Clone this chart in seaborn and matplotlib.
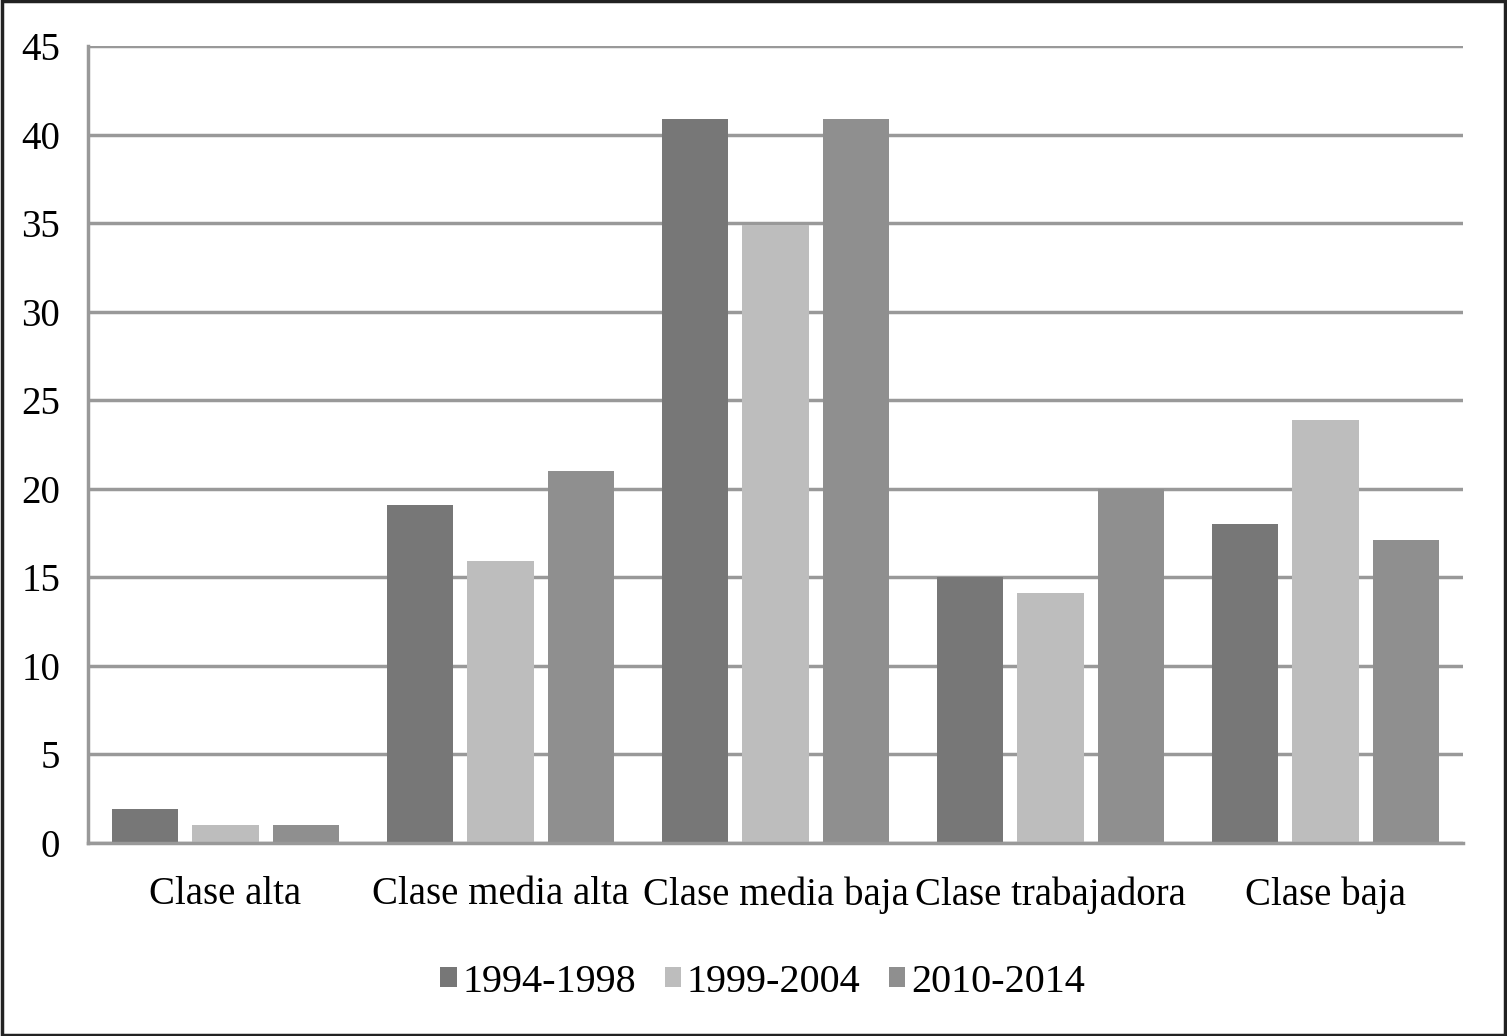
import pandas as pd
import seaborn as sns
import matplotlib.pyplot as plt
from matplotlib.patches import Rectangle

categories = ["Clase alta", "Clase media alta", "Clase media baja", "Clase trabajadora", "Clase baja"]
periods = ["1994-1998", "1999-2004", "2010-2014"]
v_1994_1998 = [1.9, 19.1, 40.9, 15.0, 18.0]
v_1999_2004 = [1.0, 15.9, 34.9, 14.1, 23.9]
v_2010_2014 = [1.0, 21.0, 40.9, 20.0, 17.1]
colors = ["#777777", "#bdbdbd", "#8f8f8f"]

rows = []
for period, vals in zip(periods, [v_1994_1998, v_1999_2004, v_2010_2014]):
    for cat, v in zip(categories, vals):
        rows.append({"Clase": cat, "Periodo": period, "Valor": v})
df = pd.DataFrame(rows)

sns.set_style("white")
plt.rcParams['font.family'] = ['Liberation Serif', 'DejaVu Serif']
plt.rcParams['text.color'] = 'black'
plt.rcParams['xtick.color'] = 'black'
plt.rcParams['ytick.color'] = 'black'

fig = plt.figure(figsize=(15.07, 10.36), dpi=100)
ax = fig.add_axes([0.0584, 0.1863, 0.9124, 0.7693])

sns.barplot(data=df, x="Clase", y="Valor", hue="Periodo", palette=colors,
            width=0.88, gap=0.18, saturation=1, linewidth=0, ax=ax, legend=True)

ax.set_ylim(0, 45)
ax.set_yticks(range(0, 46, 5))
ax.set_xlim(-0.5, 4.5)
ax.set_axisbelow(True)
ax.yaxis.grid(True, color="#999999", linewidth=2.5)
ax.xaxis.grid(False)
for s in ["top", "right"]:
    ax.spines[s].set_visible(False)
for s in ["left", "bottom"]:
    ax.spines[s].set_color("#999999")
    ax.spines[s].set_linewidth(2.5)
ax.set_xlabel("")
ax.set_ylabel("")
ax.tick_params(axis="y", length=0, pad=20, labelsize=28, labelcolor="black")
ax.tick_params(axis="x", length=0, pad=24, labelsize=28, labelcolor="black")

ax.legend_.remove()
handles, labels = ax.get_legend_handles_labels()
fig.legend(handles, labels, loc="center", bbox_to_anchor=(0.506, 0.052), ncol=3,
           frameon=False, fontsize=29, handlelength=0.4, handleheight=0.4,
           handletextpad=0.15, columnspacing=0.7)

fig.patches.append(Rectangle((0.001, 0.001), 0.998, 0.998, transform=fig.transFigure,
                             fill=False, edgecolor="#222222", linewidth=2.5))

fig.savefig("out.png", dpi=100)
